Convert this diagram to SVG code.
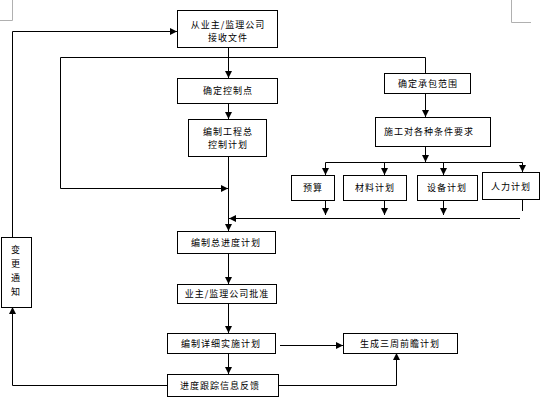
<svg xmlns="http://www.w3.org/2000/svg" width="544" height="402" viewBox="0 0 544 402">
<style>
.b{fill:#fff;stroke:#000;stroke-width:1}
.t{font-family:"Noto Sans CJK SC","Noto Sans CJK JP",sans-serif;font-size:9px;letter-spacing:1px;fill:#000;text-anchor:middle}
.c{fill:none;stroke:#000;stroke-width:1}
.a{marker-end:url(#ah)}
.g{stroke:#b0b0b0;stroke-width:1;fill:none}
</style>
<defs>
<marker id="ah" markerUnits="userSpaceOnUse" markerWidth="7" markerHeight="7" refX="7" refY="3.5" orient="auto">
<path d="M0,0 L7,3.5 L0,7 z" fill="#000"/>
</marker>
</defs>
<g id="corners">
<path class="g" d="M0,20.5 H12.5 V0"/>
<path class="g" d="M511.5,0 V22.5 H531"/>
</g>
<g id="connectors">
<path class="c a" d="M167,385.5 H12.5 V307"/>
<path class="c a" d="M12.5,237 V31.5 H177"/>
<path class="c a" d="M228.5,47 V78"/>
<path class="c" d="M60.5,57.5 H425.5"/>
<path class="c a" d="M60.5,57.5 V188.5 H228"/>
<path class="c" d="M425.5,57.5 V73"/>
<path class="c a" d="M228.5,103 V119"/>
<path class="c a" d="M228.5,156 V231"/>
<path class="c a" d="M425.5,93 V117"/>
<path class="c a" d="M425.5,146 V162"/>
<path class="c" d="M325.5,162.5 H522.5"/>
<path class="c a" d="M325.5,162.5 V175"/>
<path class="c a" d="M384.5,162.5 V175"/>
<path class="c a" d="M443.5,162.5 V175"/>
<path class="c a" d="M522.5,162.5 V172"/>
<path class="c a" d="M325.5,200 V215"/>
<path class="c a" d="M384.5,200 V215"/>
<path class="c a" d="M443.5,200 V215"/>
<path class="c" d="M522.5,199 V211"/>
<path class="c a" d="M520,218.5 H229"/>
<path class="c a" d="M228.5,253 V284"/>
<path class="c a" d="M228.5,303 V333"/>
<path class="c a" d="M280,345.5 H343"/>
<path class="c a" d="M228.5,353 V374"/>
<path class="c a" d="M278,385.5 H396.5 V353"/>
</g>
<g id="n1"><rect class="b" x="177.5" y="10.5" width="100" height="37"/><text class="t" x="228" y="28">从业主/监理公司</text><text class="t" x="228" y="41">接收文件</text></g>
<g id="n2"><rect class="b" x="177.5" y="78.5" width="100" height="25"/><text class="t" x="228" y="94">确定控制点</text></g>
<g id="n3"><rect class="b" x="188.5" y="119.5" width="78" height="37"/><text class="t" x="228" y="135">编制工程总</text><text class="t" x="228" y="148">控制计划</text></g>
<g id="n4"><rect class="b" x="384.5" y="73.5" width="86" height="20"/><text class="t" x="428" y="87">确定承包范围</text></g>
<g id="n5"><rect class="b" x="375.5" y="117.5" width="115" height="29"/><text class="t" x="429" y="135">施工对各种条件要求</text></g>
<g id="n6"><rect class="b" x="291.5" y="175.5" width="43" height="25"/><text class="t" x="313" y="191">预算</text></g>
<g id="n7"><rect class="b" x="343.5" y="175.5" width="63" height="25"/><text class="t" x="375" y="191">材料计划</text></g>
<g id="n8"><rect class="b" x="417.5" y="175.5" width="60" height="25"/><text class="t" x="447" y="191">设备计划</text></g>
<g id="n9"><rect class="b" x="482.5" y="172.5" width="57" height="27"/><text class="t" x="511" y="190">人力计划</text></g>
<g id="n10"><rect class="b" x="177.5" y="231.5" width="98" height="22"/><text class="t" x="226" y="246">编制总进度计划</text></g>
<g id="n11"><rect class="b" x="177.5" y="284.5" width="99" height="19"/><text class="t" x="227" y="297">业主/监理公司批准</text></g>
<g id="n12"><rect class="b" x="167.5" y="333.5" width="108" height="20"/><text class="t" x="221" y="347">编制详细实施计划</text></g>
<g id="n13"><rect class="b" x="343.5" y="333.5" width="114" height="20"/><text class="t" x="400" y="347">生成三周前瞻计划</text></g>
<g id="n14"><rect class="b" x="167.5" y="374.5" width="111" height="22"/><text class="t" x="220" y="389">进度跟踪信息反馈</text></g>
<g id="n15"><rect class="b" x="1.5" y="237.5" width="30" height="70"/>
<text class="t" x="16" y="253">变</text><text class="t" x="16" y="267">更</text><text class="t" x="16" y="281">通</text><text class="t" x="16" y="295">知</text></g>
</svg>
